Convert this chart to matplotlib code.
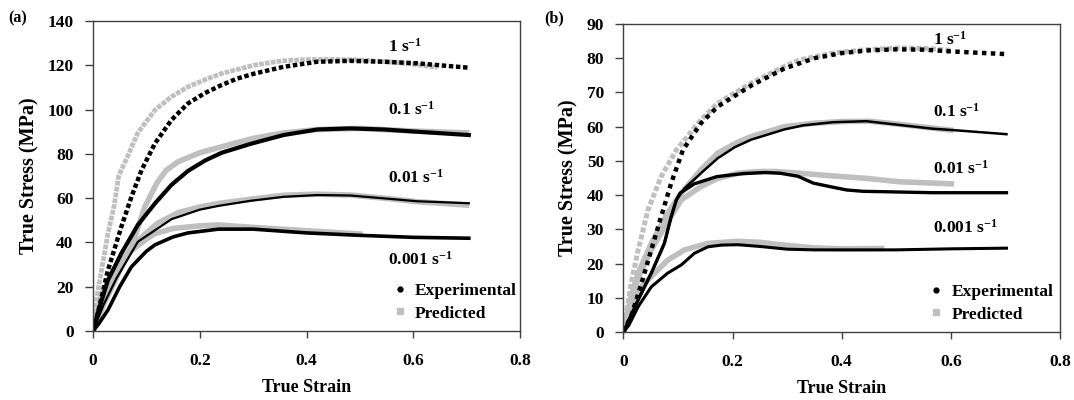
import matplotlib
matplotlib.use("Agg")
import matplotlib.pyplot as plt
from matplotlib.lines import Line2D

plt.rcParams.update({
    "font.family": "Liberation Serif",
    "font.weight": "bold",
    "axes.labelweight": "bold",
    "mathtext.fontset": "custom",
    "mathtext.rm": "Liberation Serif:bold",
    "mathtext.bf": "Liberation Serif:bold",
    "mathtext.default": "bf",
})

GRAY = "#bfbfbf"

# ---- panel (a) ----
a_1_exp_x = [0, 0.01, 0.028, 0.053, 0.072, 0.091, 0.116, 0.147, 0.178, 0.21, 0.241, 0.27, 0.303, 0.357, 0.42, 0.482, 0.545, 0.607, 0.65, 0.704]
a_1_exp_y = [0, 9, 27.5, 47, 60.6, 72.7, 84.7, 95.3, 102.8, 107.5, 111.1, 114, 116.3, 119.3, 121.6, 122, 121.6, 120.9, 120, 118.9]
a_1_pred_x = [0, 0.005, 0.0156, 0.028, 0.04, 0.048, 0.065, 0.084, 0.116, 0.147, 0.178, 0.21, 0.241, 0.303, 0.353, 0.4, 0.45, 0.5, 0.55, 0.6, 0.645]
a_1_pred_y = [0, 12, 27, 44, 57, 70, 79, 89.5, 99.8, 105.8, 110.3, 113.5, 116.3, 120.1, 122, 122.6, 122.7, 122.4, 121.6, 120.5, 119]

a_01_exp_x = [0, 0.01, 0.028, 0.053, 0.084, 0.116, 0.147, 0.178, 0.21, 0.241, 0.295, 0.357, 0.42, 0.482, 0.545, 0.607, 0.704]
a_01_exp_y = [0, 9, 23, 35, 47.9, 57.6, 66, 72.3, 77, 80.5, 84.5, 88.5, 91, 91.5, 91, 90, 88.5]
a_01_pred_x = [0, 0.02, 0.04, 0.053, 0.072, 0.097, 0.12, 0.1375, 0.16, 0.2, 0.241, 0.3, 0.353, 0.42, 0.5, 0.6, 0.7]
a_01_pred_y = [0, 12, 22, 29, 38, 56, 67, 72.7, 76.5, 80.5, 83.2, 87, 89.3, 91, 91.5, 90.3, 89.5]

a_001_exp_x = [0, 0.02, 0.044, 0.084, 0.147, 0.2, 0.235, 0.295, 0.357, 0.42, 0.482, 0.545, 0.607, 0.704]
a_001_exp_y = [0, 12, 23.8, 40.3, 50.5, 54.8, 56.5, 58.8, 60.6, 61.4, 61.2, 59.9, 58.6, 57.7]
a_001_pred_x = [0, 0.02, 0.05, 0.08, 0.12, 0.16, 0.2, 0.235, 0.295, 0.357, 0.42, 0.482, 0.545, 0.607, 0.7]
a_001_pred_y = [0, 15, 30, 40, 48.5, 53.5, 56, 57.6, 59.5, 61.3, 61.8, 61.4, 60, 58.4, 56.9]

a_0001_exp_x = [0, 0.01, 0.028, 0.05, 0.072, 0.1, 0.116, 0.15, 0.178, 0.235, 0.3, 0.4, 0.5, 0.6, 0.704]
a_0001_exp_y = [0, 3, 9.5, 20, 29, 36, 38.9, 42.5, 44.3, 46, 46, 44.3, 43.2, 42.3, 41.9]
a_0001_pred_x = [0, 0.0156, 0.04, 0.07, 0.1, 0.116, 0.15, 0.2, 0.235, 0.3, 0.4, 0.5]
a_0001_pred_y = [0, 16, 28, 36, 41.5, 44, 46.3, 47.5, 47.9, 46.8, 45.3, 43.8]

# ---- panel (b) ----
b_1_exp_x = [0, 0.015, 0.033, 0.051, 0.069, 0.0875, 0.109, 0.142, 0.173, 0.234, 0.295, 0.35, 0.4, 0.45, 0.5, 0.55, 0.6, 0.65, 0.702]
b_1_exp_y = [0, 5, 14.2, 24, 33.7, 43.5, 53.2, 61, 65.9, 72, 77, 80, 81.5, 82.3, 82.6, 82.5, 82, 81.6, 81.2]
b_1_pred_x = [0, 0.014, 0.027, 0.045, 0.069, 0.097, 0.112, 0.142, 0.173, 0.234, 0.295, 0.323, 0.384, 0.445, 0.506, 0.56, 0.6]
b_1_pred_y = [0, 14.2, 24, 35.7, 45.4, 53.2, 56.1, 62, 66.9, 72.7, 77.6, 79.5, 81.5, 82.5, 83, 82.8, 82.3]

b_01_exp_x = [0, 0.027, 0.051, 0.075, 0.0875, 0.097, 0.112, 0.149, 0.173, 0.204, 0.234, 0.295, 0.33, 0.384, 0.445, 0.506, 0.567, 0.604, 0.702]
b_01_exp_y = [0, 9.4, 17.2, 25.9, 33.7, 38.6, 42, 47.4, 50.8, 54, 56.2, 59.2, 60.4, 61.3, 61.6, 60.5, 59.4, 59, 57.8]
b_01_pred_x = [0, 0.015, 0.027, 0.051, 0.081, 0.106, 0.142, 0.173, 0.21, 0.234, 0.295, 0.35, 0.4, 0.45, 0.5, 0.56, 0.6]
b_01_pred_y = [0, 11, 17.2, 25.9, 34.7, 40.6, 47.4, 52.3, 55.5, 57.1, 60, 61, 61.5, 61.6, 60.8, 59.7, 59]

b_001_exp_x = [0, 0.027, 0.051, 0.075, 0.0875, 0.097, 0.104, 0.13, 0.171, 0.22, 0.26, 0.287, 0.32, 0.348, 0.384, 0.409, 0.44, 0.476, 0.567, 0.702]
b_001_exp_y = [0, 9.4, 17.2, 25.9, 33.7, 38.6, 40.6, 43.3, 45.4, 46.3, 46.6, 46.4, 45.5, 43.5, 42.3, 41.5, 41.1, 41, 40.7, 40.7]
b_001_pred_x = [0, 0.015, 0.03, 0.051, 0.08, 0.106, 0.142, 0.173, 0.21, 0.25, 0.277, 0.323, 0.384, 0.445, 0.506, 0.601]
b_001_pred_y = [0, 10, 17, 24, 32, 38.6, 42.5, 44.9, 46.4, 46.9, 46.9, 46.4, 45.6, 44.9, 43.9, 43.3]

b_0001_exp_x = [0, 0.01, 0.027, 0.051, 0.081, 0.106, 0.13, 0.155, 0.18, 0.21, 0.25, 0.3, 0.35, 0.4, 0.5, 0.6, 0.702]
b_0001_exp_y = [0, 2, 7.4, 13.2, 17.2, 19.6, 23, 24.9, 25.4, 25.5, 25, 24.2, 24, 24, 24, 24.3, 24.5]
b_0001_pred_x = [0, 0.01, 0.027, 0.051, 0.081, 0.112, 0.155, 0.21, 0.25, 0.3, 0.35, 0.4, 0.473]
b_0001_pred_y = [0, 6, 12.3, 16.2, 21, 24, 25.9, 26.5, 26.2, 25.3, 24.6, 24.3, 24.4]

rate_labels = ["1 s$^{-1}$", "0.1 s$^{-1}$", "0.01 s$^{-1}$", "0.001 s$^{-1}$"]
a_label_y = [126, 97.5, 66.8, 29.8]
b_label_y = [83.9, 63, 46.4, 28.9]
x_ticks = [0, 0.2, 0.4, 0.6, 0.8]
x_tick_labels = ["0", "0.2", "0.4", "0.6", "0.8"]


def setup(ax, ymax, ystep):
    ax.set_xlim(0, 0.8)
    ax.set_ylim(0, ymax)
    ax.set_xticks(x_ticks)
    ax.set_xticklabels(x_tick_labels)
    ax.set_yticks(range(0, ymax + 1, ystep))
    for s in ax.spines.values():
        s.set_color("#404040")
        s.set_linewidth(1.0)
    ax.tick_params(axis="y", direction="out", length=6, width=1, pad=8, labelsize=12.5, color="#404040")
    ax.tick_params(axis="x", direction="out", length=5, width=1, pad=11, labelsize=12.5, color="#404040")
    ax.set_xlabel("True Strain", fontsize=13, labelpad=7)
    ax.set_ylabel("True Stress (MPa)", fontsize=14.5, labelpad=6)


fig = plt.figure(figsize=(10.74, 4.0), dpi=100)
ax_a = fig.add_axes([0.0866, 0.1725, 0.3976, 0.775])
ax_b = fig.add_axes([0.5805, 0.17, 0.4064, 0.77])

# panel (a)
ax_a.plot(a_1_pred_x, a_1_pred_y, color=GRAY, lw=3.4, ls=(0, (1, 0.25)))
ax_a.plot(a_01_pred_x, a_01_pred_y, color=GRAY, lw=4)
ax_a.plot(a_001_pred_x, a_001_pred_y, color=GRAY, lw=4)
ax_a.plot(a_0001_pred_x, a_0001_pred_y, color=GRAY, lw=4)
ax_a.plot(a_1_exp_x, a_1_exp_y, color="black", lw=3.2, ls=(0, (1, 0.6)))
ax_a.plot(a_01_exp_x, a_01_exp_y, color="black", lw=3)
ax_a.plot(a_001_exp_x, a_001_exp_y, color="black", lw=1.6)
ax_a.plot(a_0001_exp_x, a_0001_exp_y, color="black", lw=2.6)

# panel (b)
ax_b.plot(b_1_pred_x, b_1_pred_y, color=GRAY, lw=3.6, ls=(0, (1, 0.45)))
ax_b.plot(b_01_pred_x, b_01_pred_y, color=GRAY, lw=4)
ax_b.plot(b_001_pred_x, b_001_pred_y, color=GRAY, lw=4)
ax_b.plot(b_0001_pred_x, b_0001_pred_y, color=GRAY, lw=4)
ax_b.plot(b_1_exp_x, b_1_exp_y, color="black", lw=3.2, ls=(0, (1, 1)))
ax_b.plot(b_01_exp_x, b_01_exp_y, color="black", lw=1.8)
ax_b.plot(b_001_exp_x, b_001_exp_y, color="black", lw=2.4)
ax_b.plot(b_0001_exp_x, b_0001_exp_y, color="black", lw=2.2)

setup(ax_a, 140, 20)
setup(ax_b, 90, 10)

for lab, y in zip(rate_labels, a_label_y):
    ax_a.text(0.553, y, lab, fontsize=12.5, ha="left", va="baseline")
for lab, y in zip(rate_labels, b_label_y):
    ax_b.text(0.567, y, lab, fontsize=12.5, ha="left", va="baseline")

handles = [
    Line2D([], [], ls="none", marker="o", ms=3.5, color="black"),
    Line2D([], [], ls="none", marker="s", ms=4.5, color=GRAY),
]
for ax in (ax_a, ax_b):
    ax.legend(handles, ["Experimental", "Predicted"], loc="lower left",
              bbox_to_anchor=(0.665, -0.02), frameon=False, fontsize=12.5,
              handlelength=0.8, handletextpad=0.5, labelspacing=0.35)

fig.text(0.008, 0.945, "(a)", fontsize=11.5)
fig.text(0.507, 0.945, "(b)", fontsize=11.5)

fig.savefig("out.png", dpi=100)
